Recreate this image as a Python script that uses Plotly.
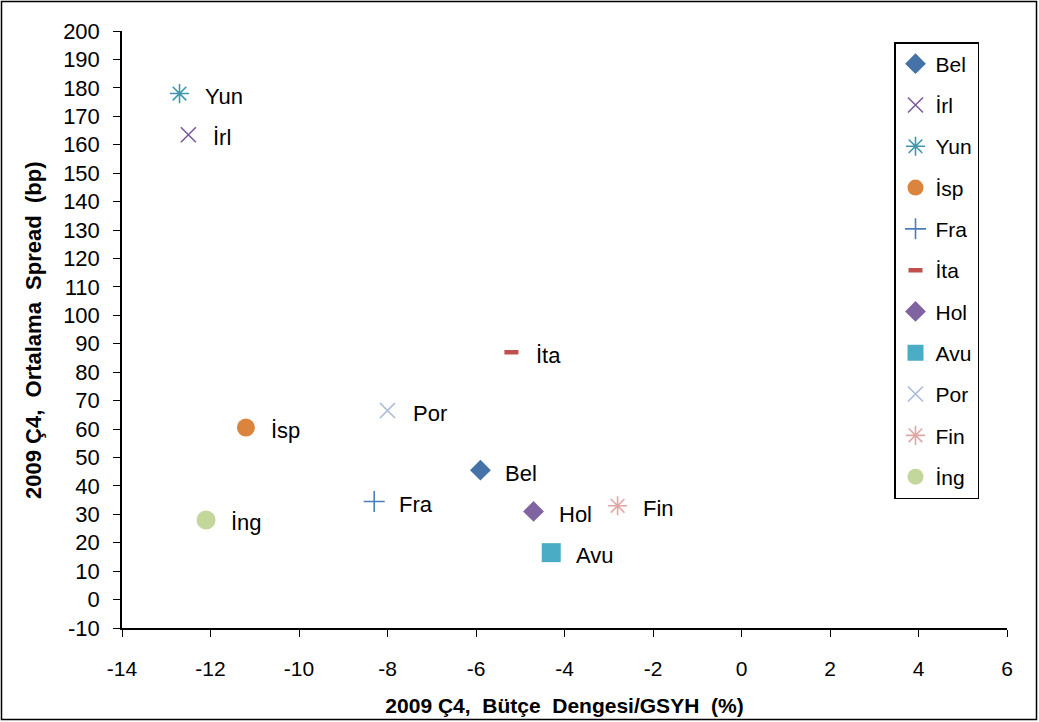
import plotly.graph_objects as go

# Country data: 2009 Q4 budget balance / GDP (%) vs average spread (bp)
countries = ["Bel", "İrl", "Yun", "İsp", "Fra", "İta", "Hol", "Avu", "Por", "Fin", "İng"]
budget_balance = [-5.9, -12.5, -12.7, -11.2, -8.3, -5.2, -4.7, -4.3, -8.0, -2.8, -12.1]
avg_spread = [45.5, 163.5, 178.0, 60.5, 34.5, 87.0, 31.0, 16.5, 66.5, 33.0, 28.0]

# Axis ticks (plain hyphen minus signs)
x_tick_vals = [-14, -12, -10, -8, -6, -4, -2, 0, 2, 4, 6]
x_tick_text = ["-14", "-12", "-10", "-8", "-6", "-4", "-2", "0", "2", "4", "6"]
y_tick_vals = list(range(-10, 201, 10))
y_tick_text = [str(v) for v in y_tick_vals]

colors = ["#4572A7", "#7A5C9C", "#3E97AE", "#DB843D", "#4A7EBB", "#C0504D",
          "#8064A2", "#4BACC6", "#A9BBDA", "#E0A6A4", "#C3D69B"]
symbols = ["diamond", "x-thin-open", "asterisk-open", "circle", "cross-thin-open",
           "line-ew-open", "diamond", "square", "x-thin-open", "asterisk-open", "circle"]
sizes = [16, 15, 16, 18, 15, 10, 16, 19, 15, 16, 19]
line_widths = [0, 1.6, 1.6, 0, 1.6, 4.5, 0, 0, 1.6, 1.6, 0]

FONT = "Liberation Sans, Arial, sans-serif"
SP = "\u00a0"

fig = go.Figure()
for i, name in enumerate(countries):
    fig.add_trace(go.Scatter(
        x=[budget_balance[i]], y=[avg_spread[i]],
        mode="markers", name=name, legendgroup=name,
        marker=dict(symbol=symbols[i], size=sizes[i], color=colors[i],
                    line=dict(color=colors[i], width=line_widths[i])),
    ))
    fig.add_annotation(x=budget_balance[i], y=avg_spread[i], text=name,
                       xanchor="left", yanchor="middle", xshift=23, yshift=-3,
                       showarrow=False, font=dict(family=FONT, size=22, color="black"))

W, H = 1039, 722
L, R, T, B = 122, 32, 31, 94
pw, ph = W - L - R, H - T - B

def px_to_paper_x(px):
    return (px - L) / pw

def px_to_paper_y(py):
    return 1 - (py - T) / ph

# Outer chart frame
fig.add_shape(type="rect", xref="paper", yref="paper",
              x0=px_to_paper_x(1.5), x1=px_to_paper_x(1036.5),
              y0=px_to_paper_y(719.5), y1=px_to_paper_y(1.5),
              line=dict(color="black", width=1.5), layer="below")

x_title = (SP * 2).join(["2009 Ç4,", "Bütçe", "Dengesi/GSYH", "(%)"])
y_title = (SP * 2).join(["2009 Ç4,", "Ortalama", "Spread", "(bp)"])

# Vertical axis title, placed at the far left of the chart frame
fig.add_annotation(xref="paper", yref="paper",
                   x=px_to_paper_x(33), y=px_to_paper_y(331),
                   xanchor="center", yanchor="middle", textangle=-90,
                   text="<b>" + y_title + "</b>", showarrow=False,
                   font=dict(family=FONT, size=22, color="black"))

fig.update_layout(
    width=W, height=H,
    margin=dict(l=L, r=R, t=T, b=B, autoexpand=False),
    paper_bgcolor="white", plot_bgcolor="white",
    font=dict(family=FONT, size=21, color="black"),
    showlegend=True,
    legend=dict(x=px_to_paper_x(894), y=px_to_paper_y(42), xanchor="left", yanchor="top",
                bordercolor="black", borderwidth=1.5, bgcolor="white",
                font=dict(family=FONT, size=21), tracegroupgap=11,
                itemwidth=30),
    xaxis=dict(range=[-14, 6], tickmode="array", tickvals=x_tick_vals, ticktext=x_tick_text,
               automargin=False, showgrid=False, zeroline=False,
               showline=True, linecolor="black", linewidth=1.5,
               ticks="outside", ticklen=7, tickcolor="black",
               tickfont=dict(size=21), ticklabelstandoff=14,
               title=dict(text="<b>" + x_title + "</b>",
                          font=dict(size=21), standoff=19)),
    yaxis=dict(range=[-10, 200], tickmode="array", tickvals=y_tick_vals, ticktext=y_tick_text,
               automargin=False, showgrid=False, zeroline=False,
               showline=True, linecolor="black", linewidth=1.5,
               ticks="outside", ticklen=7, tickcolor="black",
               tickfont=dict(size=22), ticklabelstandoff=9),
)

fig.write_html("out.html")
